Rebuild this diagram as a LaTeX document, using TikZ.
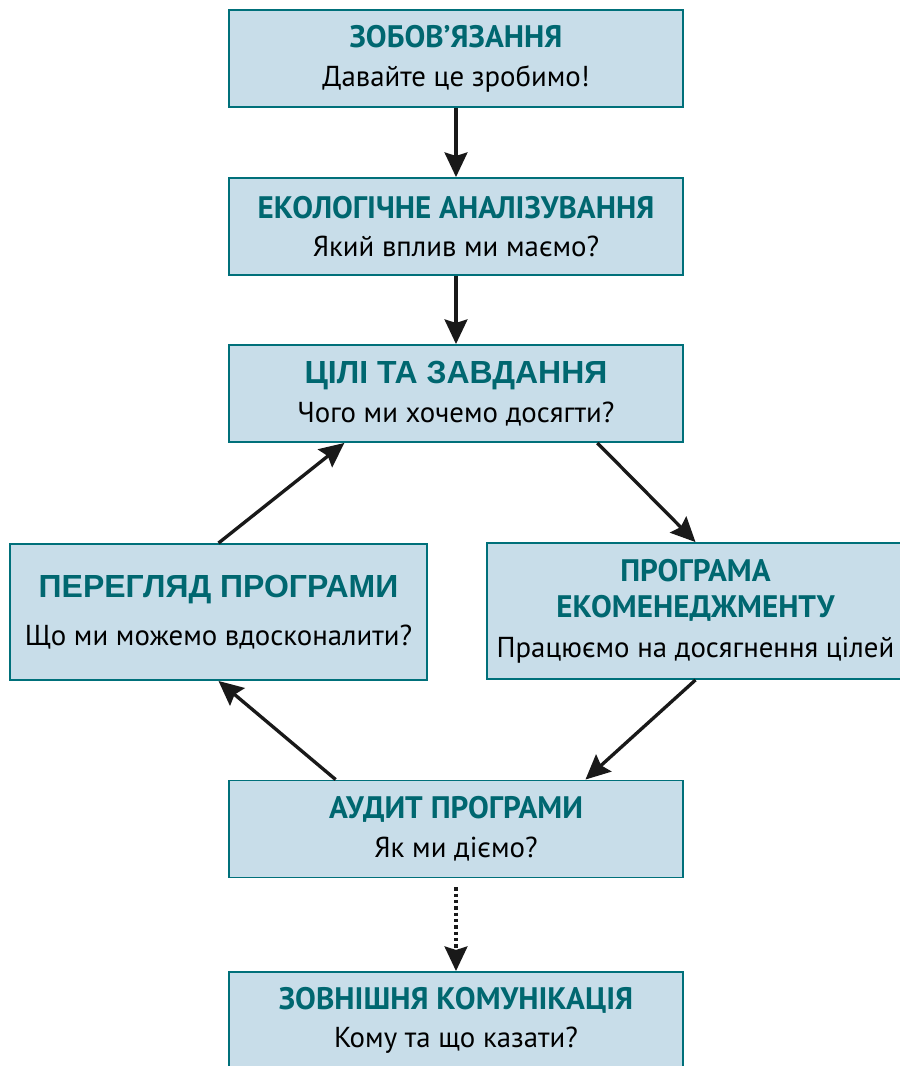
\documentclass[tikz,border=0pt]{standalone}
\usepackage{fontspec}
\setmainfont{PT Sans}
\newfontfamily\arialfont{Liberation Sans}
\usetikzlibrary{calc,arrows.meta}
\definecolor{boxfill}{HTML}{C8DDE9}
\definecolor{boxline}{HTML}{00707A}
\definecolor{headcol}{HTML}{006770}
\tikzset{
	stage/.style={draw=boxline, line width=1.1pt, fill=boxfill, rectangle, minimum width=9.08cm, minimum height=1.94cm, inner sep=0pt, align=center, font=\fontsize{16.4}{20}\selectfont},
	sidestage/.style={stage, minimum width=8.34cm, minimum height=2.72cm},
	flow/.style={line width=1.9pt, draw=black!90, -{Stealth[length=14pt,width=13pt,inset=2pt]}},
	dotflow/.style={flow, dash pattern=on 2pt off 1.6pt}
}
\newcommand{\head}[1]{{\fontsize{17.7}{22}\selectfont\bfseries\color{headcol}#1}}
\newcommand{\arialhead}[1]{{\arialfont\fontsize{18.2}{22}\selectfont\bfseries\color{headcol}#1}}

\begin{document}
\begin{tikzpicture}[x=0.02cm, y=-0.02cm]
	%%%%% START %%%%%
	\useasboundingbox (0, 0) rectangle (900, 1066);
	\clip (0, 0) rectangle (900, 1066);
	
	\node[stage] (commit) at (456, 58.5) {\head{ЗОБОВ’ЯЗАННЯ}\\[2pt]Давайте це зробимо!};
	\node[stage] (ecoanal) at (456, 226.5) {\head{ЕКОЛОГІЧНЕ АНАЛІЗУВАННЯ}\\[2pt]Який вплив ми маємо?};
	\node[stage] (goals) at (456, 393.5) {\arialhead{ЦІЛІ ТА ЗАВДАННЯ}\\[2pt]Чого ми хочемо досягти?};
	
	\node[sidestage] (review) at (218.5, 612) {\arialhead{ПЕРЕГЛЯД ПРОГРАМИ}\\[7.5pt]Що ми можемо вдосконалити?};
	\node[sidestage] (emprog) at (695.5, 611) {\head{ПРОГРАМА}\\[1pt]\head{ЕКОМЕНЕДЖМЕНТУ}\\[2.5pt]Працюємо на досягнення цілей};
	
	\node[stage] (audit) at (456, 829) {\head{АУДИТ ПРОГРАМИ}\\[2pt]Як ми діємо?};
	\node[stage] (extcomm) at (456, 1020.5) {\head{ЗОВНІШНЯ КОМУНІКАЦІЯ}\\[2pt]Кому та що казати?};
	
	\draw[flow] (commit) -- (ecoanal);
	\draw[flow] (ecoanal) -- (goals);
	\draw[flow] ($(goals.south west)!0.81!(goals.south east)$) -- (emprog.north);
	\draw[flow] (review.north) -- ($(goals.south west)!0.255!(goals.south east)$);
	\draw[flow] ($(audit.north west)!0.236!(audit.north east)$) -- (review.south);
	\draw[flow] (emprog.south) -- ($(audit.north west)!0.784!(audit.north east)$);
	\draw[dotflow] ([yshift=-5] audit.south) -- (extcomm.north);
	
	%%%%% END %%%%%
\end{tikzpicture}
\end{document}
